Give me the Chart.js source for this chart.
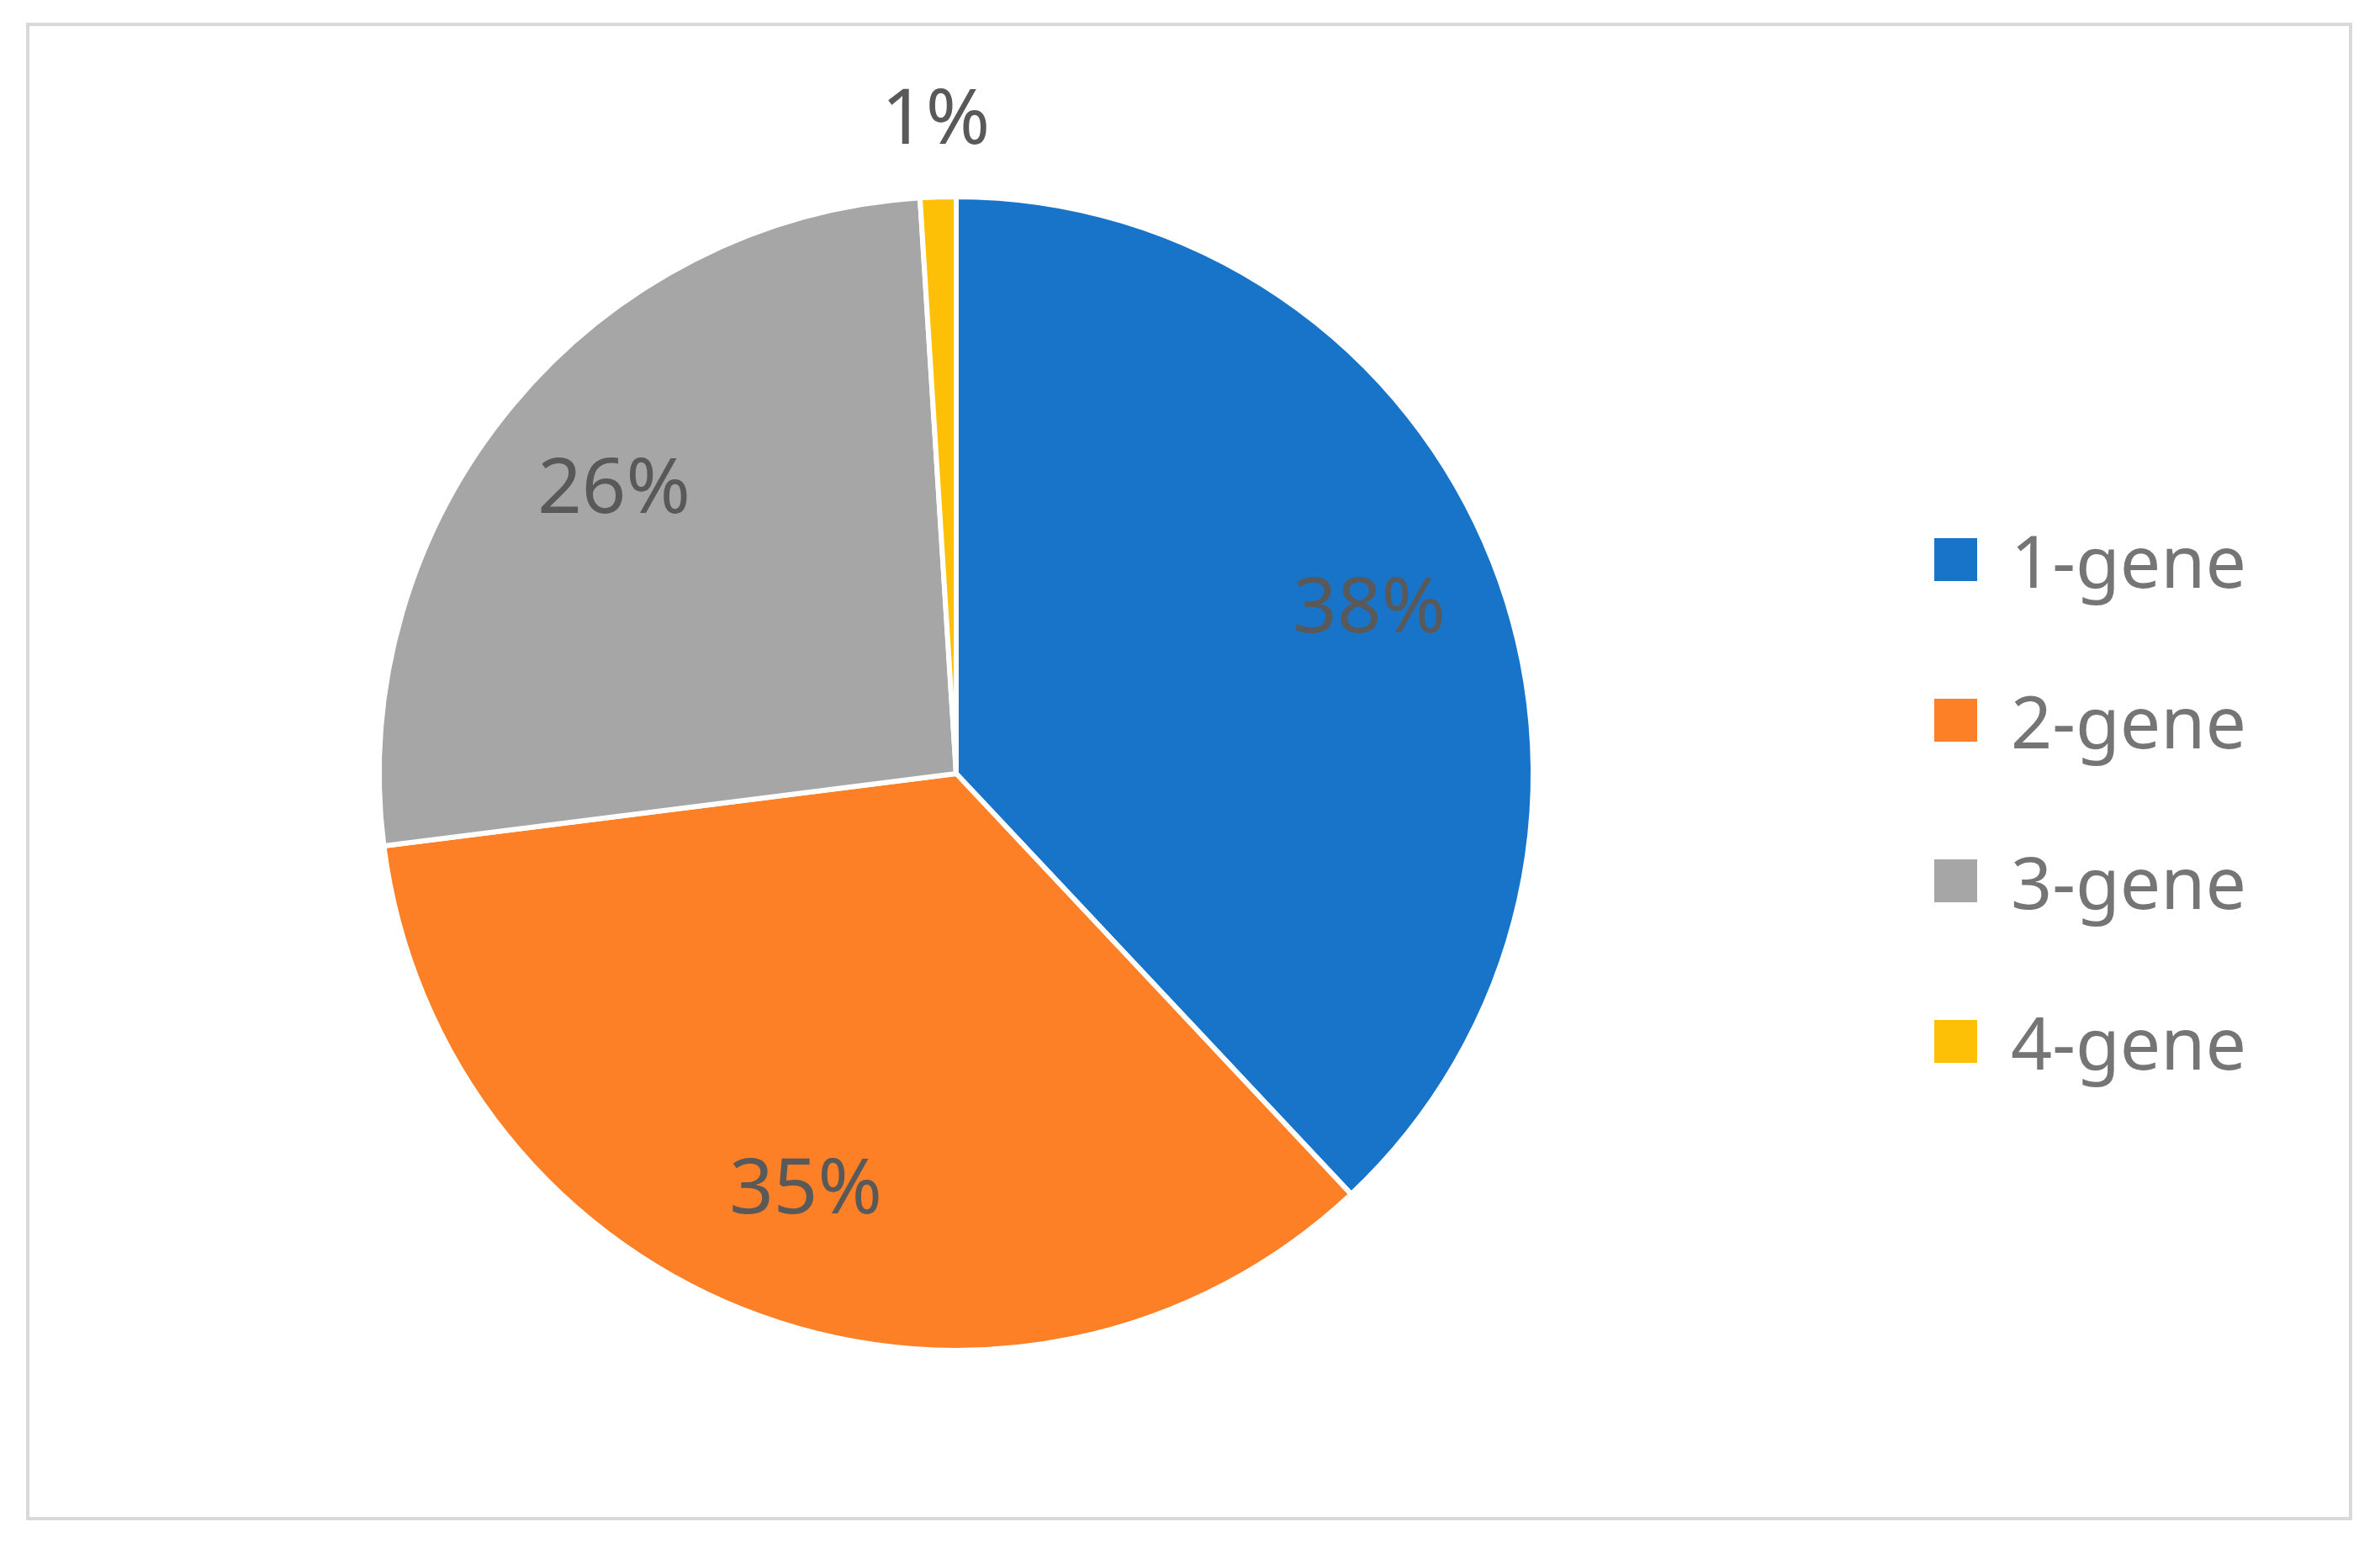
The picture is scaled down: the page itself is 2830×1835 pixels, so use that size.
<!DOCTYPE html>
<html>
<head>
<meta charset="utf-8">
<script src="https://cdn.jsdelivr.net/npm/chart.js@4"></script>
<style>
  body { margin:0; background:#fff; }
  #wrap { position:relative; width:2830px; height:1835px; }
  #frame { position:absolute; left:31px; top:27px; width:2766px; height:1781px; border:4px solid #d9d9d9; box-sizing:border-box; }
  #pie { position:absolute; left:0; top:0; }
  #legend { position:absolute; left:2300px; top:570px; font-family:"Noto Sans"; font-size:86px; color:#757575; }
  .row { display:flex; align-items:center; height:191px; }
  .sw { width:51px; height:51px; margin-right:40px; }
</style>
</head>
<body>
<div id="wrap">
  <div id="frame"></div>
  <canvas id="pie" width="2830" height="1835"></canvas>
  <div id="legend"></div>
</div>
<script>
// データ
const labels = ["1-gene", "2-gene", "3-gene", "4-gene"];
const values = [38, 35, 26, 1];
const colors = ["#1874c8", "#fd7f26", "#a6a6a6", "#fec006"];

// 凡例
const legend = document.getElementById("legend");
labels.forEach(function(l, i){
    legend.innerHTML += '<div class="row"><div class="sw" style="background:' + colors[i] + '"></div>' + l + '</div>';
});

// ラベル描画
const pctLabels = {
    id: "pctLabels",
    afterDatasetsDraw: function(chart){
        const ctx = chart.ctx;
        const meta = chart.getDatasetMeta(0);
        const total = values.reduce(function(a, b){ return a + b; }, 0);
        ctx.save();
        ctx.font = "92px 'Noto Sans'";
        ctx.fillStyle = "#595959";
        ctx.textAlign = "center";
        ctx.textBaseline = "middle";
        meta.data.forEach(function(arc, i){
            const pct = values[i] / total;
            const mid = (arc.startAngle + arc.endAngle) / 2;
            const f = pct < 0.05 ? 1.13 : 0.77;
            const x = arc.x + Math.cos(mid) * arc.outerRadius * f;
            const y = arc.y + Math.sin(mid) * arc.outerRadius * f;
            ctx.fillText(Math.round(pct * 100) + "%", x, y);
        });
        ctx.restore();
    }
};

new Chart(document.getElementById("pie").getContext("2d"), {
    type: "pie",
    data: {
        labels: labels,
        datasets: [{
            data: values,
            backgroundColor: colors,
            borderColor: "#ffffff",
            borderWidth: 6
        }]
    },
    options: {
        responsive: false,
        animation: false,
        layout: { padding: { left: 448, right: 1004, top: 231, bottom: 226 } },
        plugins: { legend: { display: false }, tooltip: { enabled: false } }
    },
    plugins: [pctLabels]
});
</script>
</body>
</html>
